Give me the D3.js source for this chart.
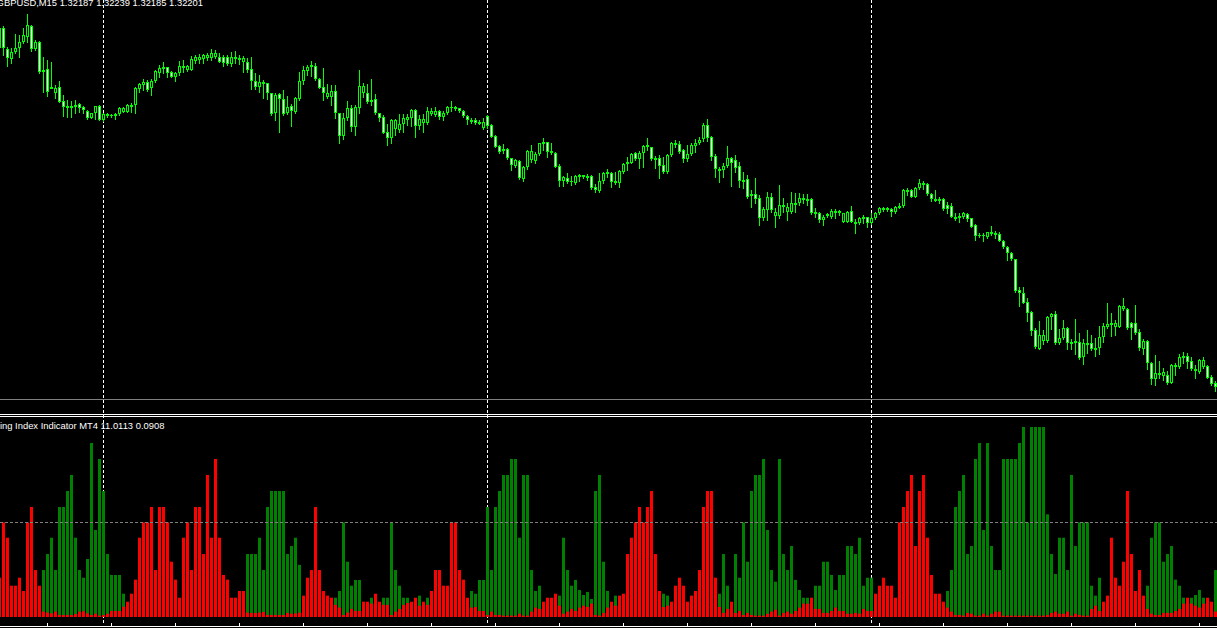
<!DOCTYPE html>
<html>
<head>
<meta charset="utf-8">
<script src="https://cdn.jsdelivr.net/npm/d3@7"></script>
<style>
  html, body { margin: 0; padding: 0; background: #000; overflow: hidden; }
  svg { display: block; }
</style>
</head>
<body>
<script>
// GBPUSD M15 candles, bar index -1 .. 303 (index -1 is the half-visible one on the left edge)
const opens = [
  1.3578,1.3578,1.3557,1.3547,1.3554,1.3558,1.3564,1.3569,1.3580,1.3557,1.3564,
  1.3535,1.3537,1.3518,1.3513,1.3519,1.3505,1.3498,1.3498,1.3499,1.3502,
  1.3499,1.3495,1.3488,1.3493,1.3500,1.3486,1.3491,1.3491,1.3491,1.3492,
  1.3494,1.3494,1.3500,1.3501,1.3517,1.3521,1.3524,1.3518,1.3525,1.3533,
  1.3537,1.3539,1.3534,1.3529,1.3533,1.3539,1.3536,1.3536,1.3545,1.3546,
  1.3547,1.3548,1.3548,1.3549,1.3549,1.3549,1.3549,1.3542,1.3547,1.3547,
  1.3544,1.3544,1.3537,1.3525,1.3519,1.3524,1.3523,1.3513,1.3493,1.3512,
  1.3507,1.3493,1.3500,1.3494,1.3507,1.3525,1.3535,1.3539,1.3540,1.3527,
  1.3519,1.3509,1.3509,1.3515,1.3493,1.3470,1.3488,1.3498,1.3479,1.3498,
  1.3513,1.3513,1.3506,1.3507,1.3493,1.3489,1.3474,1.3468,1.3477,1.3476,
  1.3482,1.3486,1.3488,1.3496,1.3480,1.3483,1.3483,1.3492,1.3491,1.3495,
  1.3489,1.3493,1.3499,1.3499,1.3498,1.3495,1.3490,1.3486,1.3486,1.3484,
  1.3478,1.3490,1.3481,1.3470,1.3460,1.3457,1.3457,1.3448,1.3440,1.3445,
  1.3427,1.3439,1.3446,1.3445,1.3452,1.3462,1.3464,1.3455,1.3453,1.3440,
  1.3425,1.3428,1.3425,1.3423,1.3431,1.3431,1.3430,1.3430,1.3419,1.3415,
  1.3425,1.3434,1.3433,1.3425,1.3423,1.3434,1.3442,1.3443,1.3453,1.3447,
  1.3453,1.3459,1.3459,1.3448,1.3448,1.3441,1.3434,1.3451,1.3463,1.3462,
  1.3456,1.3447,1.3452,1.3460,1.3463,1.3467,1.3481,1.3469,1.3450,1.3437,
  1.3436,1.3440,1.3448,1.3446,1.3440,1.3426,1.3427,1.3412,1.3412,1.3408,
  1.3388,1.3396,1.3409,1.3390,1.3390,1.3401,1.3394,1.3394,1.3403,1.3403,
  1.3406,1.3407,1.3407,1.3394,1.3393,1.3386,1.3392,1.3389,1.3394,1.3395,
  1.3384,1.3384,1.3395,1.3384,1.3383,1.3388,1.3389,1.3383,1.3388,1.3393,
  1.3398,1.3397,1.3397,1.3394,1.3398,1.3400,1.3416,1.3416,1.3409,1.3418,
  1.3422,1.3422,1.3412,1.3407,1.3407,1.3407,1.3401,1.3400,1.3389,1.3388,
  1.3389,1.3392,1.3388,1.3381,1.3371,1.3371,1.3369,1.3372,1.3373,1.3372,
  1.3365,1.3359,1.3353,1.3347,1.3316,1.3313,1.3304,1.3294,1.3276,1.3257,
  1.3265,1.3265,1.3289,1.3292,1.3263,1.3268,1.3278,1.3264,1.3265,1.3264,
  1.3249,1.3263,1.3263,1.3258,1.3258,1.3269,1.3279,1.3283,1.3279,1.3279,
  1.3297,1.3297,1.3283,1.3283,1.3274,1.3257,1.3265,1.3243,1.3227,1.3233,
  1.3230,1.3231,1.3223,1.3239,1.3239,1.3250,1.3250,1.3245,1.3237,1.3234,
  1.3239,1.3240,1.3229,1.3223
];
const highs = [
  1.3581,1.3580,1.3559,1.3558,1.3572,1.3571,1.3578,1.3592,1.3581,1.3566,1.3565,
  1.3549,1.3546,1.3544,1.3521,1.3525,1.3511,1.3506,1.3505,1.3506,1.3503,
  1.3500,1.3496,1.3493,1.3500,1.3501,1.3493,1.3493,1.3492,1.3493,1.3499,
  1.3499,1.3502,1.3503,1.3519,1.3523,1.3527,1.3526,1.3527,1.3536,1.3541,
  1.3544,1.3539,1.3535,1.3534,1.3545,1.3546,1.3541,1.3550,1.3551,1.3552,
  1.3552,1.3553,1.3557,1.3556,1.3553,1.3551,1.3551,1.3554,1.3555,1.3551,
  1.3550,1.3548,1.3549,1.3533,1.3531,1.3526,1.3523,1.3513,1.3513,1.3513,
  1.3516,1.3510,1.3502,1.3509,1.3534,1.3540,1.3541,1.3545,1.3543,1.3528,
  1.3538,1.3522,1.3521,1.3521,1.3493,1.3493,1.3505,1.3501,1.3501,1.3536,
  1.3523,1.3522,1.3527,1.3512,1.3493,1.3491,1.3482,1.3487,1.3487,1.3492,
  1.3492,1.3492,1.3497,1.3497,1.3491,1.3492,1.3499,1.3498,1.3499,1.3496,
  1.3495,1.3500,1.3505,1.3500,1.3498,1.3496,1.3491,1.3488,1.3488,1.3486,
  1.3488,1.3491,1.3482,1.3471,1.3461,1.3462,1.3458,1.3448,1.3447,1.3446,
  1.3440,1.3456,1.3461,1.3454,1.3463,1.3468,1.3464,1.3463,1.3454,1.3442,
  1.3430,1.3433,1.3430,1.3431,1.3432,1.3431,1.3432,1.3431,1.3422,1.3433,
  1.3434,1.3437,1.3434,1.3434,1.3436,1.3443,1.3449,1.3453,1.3454,1.3455,
  1.3461,1.3468,1.3459,1.3450,1.3451,1.3449,1.3452,1.3464,1.3466,1.3465,
  1.3457,1.3461,1.3463,1.3467,1.3469,1.3483,1.3487,1.3470,1.3452,1.3439,
  1.3443,1.3460,1.3449,1.3451,1.3444,1.3434,1.3431,1.3416,1.3428,1.3411,
  1.3399,1.3414,1.3413,1.3398,1.3421,1.3408,1.3403,1.3414,1.3413,1.3413,
  1.3412,1.3412,1.3408,1.3398,1.3394,1.3391,1.3393,1.3397,1.3397,1.3396,
  1.3393,1.3395,1.3400,1.3387,1.3389,1.3391,1.3389,1.3393,1.3394,1.3399,
  1.3399,1.3399,1.3398,1.3400,1.3403,1.3417,1.3418,1.3417,1.3419,1.3427,
  1.3425,1.3423,1.3413,1.3416,1.3409,1.3408,1.3404,1.3403,1.3393,1.3393,
  1.3394,1.3393,1.3388,1.3382,1.3373,1.3373,1.3374,1.3380,1.3375,1.3374,
  1.3366,1.3360,1.3354,1.3347,1.3319,1.3319,1.3308,1.3295,1.3278,1.3285,
  1.3276,1.3290,1.3293,1.3295,1.3277,1.3286,1.3279,1.3267,1.3287,1.3273,
  1.3267,1.3276,1.3271,1.3268,1.3280,1.3283,1.3303,1.3293,1.3286,1.3301,
  1.3308,1.3298,1.3284,1.3301,1.3277,1.3267,1.3266,1.3244,1.3251,1.3245,
  1.3238,1.3235,1.3242,1.3243,1.3252,1.3254,1.3253,1.3249,1.3241,1.3247,
  1.3249,1.3241,1.3231,1.3225
];
const lows = [
  1.3551,1.3551,1.3540,1.3543,1.3553,1.3549,1.3563,1.3564,1.3555,1.3556,1.3533,
  1.3514,1.3510,1.3518,1.3508,1.3504,1.3490,1.3489,1.3489,1.3493,1.3494,
  1.3493,1.3487,1.3488,1.3487,1.3486,1.3485,1.3489,1.3489,1.3487,1.3491,
  1.3494,1.3494,1.3494,1.3493,1.3514,1.3516,1.3515,1.3511,1.3524,1.3529,
  1.3533,1.3529,1.3529,1.3525,1.3531,1.3534,1.3535,1.3536,1.3543,1.3543,
  1.3543,1.3546,1.3546,1.3548,1.3544,1.3540,1.3541,1.3540,1.3543,1.3542,
  1.3534,1.3534,1.3517,1.3517,1.3514,1.3508,1.3507,1.3491,1.3486,1.3474,
  1.3491,1.3492,1.3480,1.3493,1.3506,1.3522,1.3531,1.3530,1.3526,1.3518,
  1.3506,1.3508,1.3501,1.3488,1.3463,1.3467,1.3486,1.3475,1.3471,1.3493,
  1.3509,1.3503,1.3501,1.3492,1.3485,1.3473,1.3461,1.3463,1.3471,1.3474,
  1.3474,1.3481,1.3480,1.3469,1.3477,1.3474,1.3482,1.3491,1.3490,1.3487,
  1.3486,1.3492,1.3495,1.3496,1.3494,1.3489,1.3482,1.3483,1.3482,1.3482,
  1.3477,1.3478,1.3469,1.3459,1.3453,1.3453,1.3447,1.3436,1.3439,1.3427,
  1.3425,1.3437,1.3444,1.3443,1.3451,1.3456,1.3449,1.3452,1.3439,1.3420,
  1.3420,1.3423,1.3421,1.3422,1.3425,1.3428,1.3426,1.3417,1.3414,1.3414,
  1.3423,1.3429,1.3419,1.3422,1.3419,1.3433,1.3436,1.3443,1.3446,1.3438,
  1.3439,1.3456,1.3446,1.3438,1.3428,1.3433,1.3433,1.3450,1.3459,1.3453,
  1.3444,1.3445,1.3451,1.3454,1.3462,1.3465,1.3465,1.3446,1.3429,1.3424,
  1.3429,1.3439,1.3420,1.3434,1.3419,1.3418,1.3408,1.3399,1.3403,1.3381,
  1.3386,1.3386,1.3394,1.3379,1.3388,1.3394,1.3386,1.3393,1.3394,1.3401,
  1.3403,1.3401,1.3392,1.3389,1.3384,1.3381,1.3389,1.3388,1.3388,1.3391,
  1.3384,1.3384,1.3384,1.3373,1.3382,1.3383,1.3379,1.3382,1.3387,1.3392,
  1.3395,1.3395,1.3390,1.3393,1.3398,1.3399,1.3411,1.3409,1.3409,1.3417,
  1.3417,1.3411,1.3405,1.3405,1.3403,1.3396,1.3393,1.3389,1.3386,1.3384,
  1.3388,1.3385,1.3379,1.3366,1.3369,1.3365,1.3368,1.3371,1.3368,1.3365,
  1.3358,1.3346,1.3346,1.3314,1.3300,1.3303,1.3285,1.3271,1.3258,1.3257,
  1.3262,1.3264,1.3277,1.3262,1.3262,1.3267,1.3257,1.3257,1.3252,1.3247,
  1.3242,1.3253,1.3256,1.3250,1.3252,1.3264,1.3278,1.3270,1.3271,1.3279,
  1.3296,1.3277,1.3267,1.3272,1.3256,1.3252,1.3237,1.3222,1.3221,1.3228,
  1.3226,1.3222,1.3223,1.3231,1.3238,1.3243,1.3238,1.3236,1.3228,1.3233,
  1.3238,1.3228,1.3221,1.3215
];
const closes = [
  1.3558,1.3558,1.3548,1.3554,1.3558,1.3564,1.3571,1.3581,1.3557,1.3564,1.3534,
  1.3536,1.3514,1.3519,1.3518,1.3504,1.3499,1.3500,1.3500,1.3501,1.3498,
  1.3496,1.3488,1.3493,1.3500,1.3486,1.3492,1.3492,1.3491,1.3492,1.3498,
  1.3498,1.3501,1.3501,1.3518,1.3522,1.3524,1.3516,1.3525,1.3535,1.3538,
  1.3539,1.3533,1.3529,1.3533,1.3540,1.3540,1.3540,1.3547,1.3549,1.3549,
  1.3551,1.3551,1.3553,1.3553,1.3544,1.3543,1.3542,1.3549,1.3549,1.3548,
  1.3548,1.3536,1.3525,1.3519,1.3524,1.3523,1.3513,1.3492,1.3511,1.3507,
  1.3492,1.3499,1.3495,1.3508,1.3525,1.3536,1.3539,1.3541,1.3527,1.3518,
  1.3513,1.3513,1.3515,1.3493,1.3470,1.3488,1.3498,1.3479,1.3499,1.3520,
  1.3520,1.3504,1.3504,1.3493,1.3488,1.3473,1.3468,1.3486,1.3486,1.3482,
  1.3488,1.3489,1.3496,1.3480,1.3487,1.3487,1.3495,1.3495,1.3495,1.3489,
  1.3493,1.3499,1.3499,1.3498,1.3495,1.3490,1.3486,1.3484,1.3483,1.3483,
  1.3484,1.3480,1.3469,1.3459,1.3454,1.3456,1.3448,1.3441,1.3446,1.3428,
  1.3439,1.3455,1.3455,1.3452,1.3463,1.3464,1.3454,1.3453,1.3439,1.3425,
  1.3429,1.3424,1.3425,1.3430,1.3429,1.3430,1.3429,1.3418,1.3416,1.3425,
  1.3433,1.3433,1.3424,1.3423,1.3435,1.3442,1.3444,1.3452,1.3447,1.3453,
  1.3460,1.3461,1.3447,1.3447,1.3440,1.3434,1.3451,1.3463,1.3462,1.3454,
  1.3447,1.3452,1.3461,1.3463,1.3466,1.3481,1.3468,1.3449,1.3437,1.3435,
  1.3440,1.3448,1.3443,1.3438,1.3425,1.3424,1.3409,1.3410,1.3407,1.3388,
  1.3397,1.3409,1.3396,1.3394,1.3401,1.3399,1.3399,1.3403,1.3402,1.3408,
  1.3408,1.3405,1.3393,1.3393,1.3386,1.3389,1.3391,1.3395,1.3395,1.3393,
  1.3393,1.3394,1.3384,1.3383,1.3388,1.3389,1.3383,1.3388,1.3393,1.3398,
  1.3397,1.3398,1.3394,1.3399,1.3400,1.3416,1.3415,1.3409,1.3418,1.3423,
  1.3423,1.3412,1.3407,1.3406,1.3405,1.3397,1.3397,1.3389,1.3388,1.3390,
  1.3393,1.3387,1.3379,1.3370,1.3371,1.3371,1.3374,1.3374,1.3371,1.3365,
  1.3359,1.3353,1.3347,1.3315,1.3313,1.3303,1.3293,1.3275,1.3259,1.3271,
  1.3271,1.3289,1.3292,1.3263,1.3268,1.3278,1.3263,1.3263,1.3263,1.3248,
  1.3263,1.3262,1.3257,1.3257,1.3269,1.3280,1.3282,1.3281,1.3283,1.3300,
  1.3300,1.3278,1.3278,1.3273,1.3258,1.3265,1.3243,1.3227,1.3233,1.3232,
  1.3234,1.3223,1.3241,1.3241,1.3249,1.3249,1.3244,1.3237,1.3235,1.3246,
  1.3246,1.3228,1.3222,1.3219
];

// indicator buffers (same bar index)
const upVals = [
  0,0,0,0,0,0,0,0,0,0,0,
  3.06,4.06,5.08,3.06,7,7,8,9,5.08,3.06,
  2.58,3.75,11,5.56,10,8,4.06,2.75,2.75,2.75,
  1.58,0,0,0,0,0,0,0,0,0,
  0,0,0,0,0,0,0,0,0,0,
  0,0,0,0,0,0,0,0,0,0,
  0,4.06,4.06,4.06,5.08,3.06,7,8,8,8,
  8,4.06,4.56,5.08,3.38,0,0,0,0,0,
  0,0,0,1.33,1.75,6.04,3.58,2.08,2.44,2.44,
  0,0,1.33,0,0,1.33,1.33,6.04,3.06,2.08,
  1.33,1.33,0,0,1.46,0,1.33,0,0,0,
  0,0,0,0,0,0,0,1.75,1.58,2.44,
  2.44,7,3.06,7,8,9,9,10,10,5.08,
  9,9,3.06,1.75,2.08,0,0,0,0,1.46,
  5.08,3.06,2.08,2.44,1.81,1.5,1.69,1.25,8,9,
  3.58,1.75,0,1.46,0,0,0,0,0,0,
  0,0,0,0,0,1.58,1.46,0,0,0,
  0,0,0,0,0,0,0,0,0,1.58,
  4.06,2.08,0,4.06,2.58,6.04,3.58,8,9,9,
  10,5.56,3.06,2.33,10,4.06,3.06,4.56,2.44,1.81,
  1.33,1.33,0,2.08,2.08,3.58,3.58,2.75,1.81,2.75,
  2.75,4.56,4.56,4.06,5.08,2.08,2.58,2.58,0,0,
  0,0,0,0,0,0,0,0,0,0,
  0,0,0,0,0,0,1.75,3.06,7,8,
  9,4.06,4.56,10,11,5.56,11,4.56,3.06,3.06,
  10,10,10,10,11,12,6.04,12,12,12,
  12,6.54,4.06,2.81,5.08,5.08,3.06,9,4.56,6.04,
  6.04,6.04,2.08,1.46,2.58,0,0,0,0,0,
  0,0,0,0,0,0,2.08,5.08,6.04,6.04,
  3.58,4.06,4.56,2.46,2.08,1.33,0,1.33,1.5,1.81,
  1.33,0,0,3.06
];
const downVals = [
  2.58,6.04,5.08,2.08,2.08,2.58,1.75,6.04,7,3.06,2.08,
  0.46,0.4,0.35,0.46,0.25,0.25,0.25,0.25,0.31,0.46,
  0.48,0.35,0.25,0.33,0.21,0.25,0.33,0.5,0.5,0.5,
  0.77,1.08,1.58,2.46,5.08,6.04,6.04,7,3.06,7,
  7,6.04,3.58,2.46,1.33,5.08,6.04,3.06,7,7,
  4.06,9,5.08,10,5.08,2.75,2.46,1.33,1.33,1.75,
  1.75,0.4,0.38,0.38,0.4,0.44,0.25,0.25,0.25,0.25,
  0.25,0.38,0.33,0.35,0.4,1.46,2.58,3.06,7,3.06,
  1.75,1.46,1.33,0.88,0.71,0.25,0.4,0.63,0.5,0.5,
  1.08,1.08,0.96,1.58,1.08,0.88,0.88,0.25,0.46,0.63,
  0.88,1,1.08,1.33,0.83,1.08,0.88,1.75,3.06,3.06,
  2.08,2.08,6.04,6.04,3.06,2.46,1.33,0.71,0.75,0.5,
  0.5,0.25,0.46,0.25,0.25,0.21,0.21,0.21,0.21,0.33,
  0.21,0.21,0.46,0.71,0.63,1.08,1.33,1.33,1.58,0.83,
  0.33,0.46,0.63,0.5,0.71,0.83,0.75,0.96,0.25,0.21,
  0.38,0.71,1.08,0.83,1.46,1.58,4.06,5.08,6.04,7,
  6.04,7,8,4.06,1.75,0.75,0.83,1.08,2.08,2.58,
  2.08,1.08,1.46,1.75,3.06,7,8,8,2.58,0.75,
  0.38,0.63,1.08,0.38,0.5,0.25,0.38,0.25,0.21,0.21,
  0.21,0.33,0.46,0.58,0.21,0.38,0.46,0.33,0.5,0.71,
  0.96,0.96,1.33,0.63,0.63,0.38,0.38,0.5,0.71,0.5,
  0.5,0.33,0.33,0.38,0.33,0.63,0.5,0.5,1.58,2.08,
  2.58,2.08,2.08,1.33,6.04,7,8,9,4.56,8,
  9,5.08,2.75,1.58,1.58,1.08,0.71,0.46,0.25,0.25,
  0.21,0.38,0.33,0.21,0.21,0.33,0.21,0.33,0.46,0.46,
  0.21,0.21,0.21,0.21,0.21,0.21,0.21,0.21,0.21,0.21,
  0.21,0.25,0.38,0.46,0.33,0.33,0.46,0.21,0.33,0.25,
  0.21,0.21,0.63,0.83,0.5,1.08,1.46,5.08,2.58,2.08,
  3.58,8,4.06,1.75,3.06,1.46,0.63,0.33,0.25,0.25,
  0.38,0.38,0.38,0.5,0.63,0.96,1.33,0.96,0.83,0.71,
  0.96,1.33,1.08,0.46
];

const daySeparators = [25, 121, 217];     // first bar of each new day
const timeTicks = d3.range(11, 304, 16);  // every 4 hours
const indicatorLevel = 6;
const titleMain = "GBPUSD,M15  1.32187 1.32239 1.32185 1.32201";
const titleSub = "ing Index Indicator MT4 11.0113 0.0908";

const W = 1217, H = 628;
const bars = d3.range(-1, 304).map((i, k) => ({
  i, o: opens[k], h: highs[k], l: lows[k], c: closes[k], up: upVals[k], dn: downVals[k]
}));

const svg = d3.select('body').append('svg')
  .attr('width', W)
  .attr('height', H)
  .style('background-color', '#000');

const x = d3.scaleBand()
  .domain(bars.map(d => d.i))
  .range([-2.5, W + 0.5])
  .paddingInner(0.25)
  .paddingOuter(0.125);
const cx = i => x(i) + x.bandwidth() / 2;

const y = d3.scaleLinear().domain([1.3606, 1.3206]).range([0, 400]);
const yInd = d3.scaleLinear().domain([0, 12]).range([619, 427]);
const IND_BOTTOM = 617;

// day separators (drawn first, under everything)
svg.append('g').selectAll('line')
  .data(daySeparators)
  .join('line')
  .attr('x1', d => cx(d)).attr('x2', d => cx(d))
  .attr('y1', 0).attr('y2', 624)
  .attr('stroke', '#fff')
  .attr('stroke-dasharray', '3,2');

// main chart
const mainG = svg.append('g');
mainG.selectAll('line.wick')
  .data(bars)
  .join('line')
  .attr('class', 'wick')
  .attr('x1', d => cx(d.i)).attr('x2', d => cx(d.i))
  .attr('y1', d => Math.round(y(d.h))).attr('y2', d => Math.round(y(d.l)) + 1)
  .attr('stroke', '#00ff00');

const bodies = mainG.selectAll('g.body')
  .data(bars)
  .join('g')
  .attr('class', 'body');

bodies.each(function (d) {
  const g = d3.select(this);
  const top = Math.round(y(Math.max(d.o, d.c)));
  const bot = Math.round(y(Math.min(d.o, d.c)));
  if (bot - top >= 2) {
    g.append('rect')
      .attr('x', cx(d.i) - 1)
      .attr('y', top + 0.5)
      .attr('width', 2)
      .attr('height', bot - top - 1)
      .attr('fill', d.c >= d.o ? '#000' : '#fff')
      .attr('stroke', '#00ff00');
  } else {
    g.append('rect')
      .attr('x', cx(d.i) - 1.5)
      .attr('y', top)
      .attr('width', 3)
      .attr('height', bot - top + 1)
      .attr('fill', '#00ff00');
  }
});

// window borders
svg.append('line').attr('x1', 0).attr('x2', W).attr('y1', 399.5).attr('y2', 399.5).attr('stroke', '#808080');
svg.append('line').attr('x1', 0).attr('x2', W).attr('y1', 414.5).attr('y2', 414.5).attr('stroke', '#fff');
svg.append('line').attr('x1', 0).attr('x2', W).attr('y1', 416.5).attr('y2', 416.5).attr('stroke', '#fff');

// indicator histogram
const indG = svg.append('g');
indG.selectAll('rect.up')
  .data(bars.filter(d => d.up > 0))
  .join('rect')
  .attr('class', 'up')
  .attr('x', d => x(d.i))
  .attr('width', x.bandwidth())
  .attr('y', d => yInd(d.up))
  .attr('height', d => Math.max(0, IND_BOTTOM - yInd(d.up)))
  .attr('fill', '#008000');
indG.selectAll('rect.dn')
  .data(bars.filter(d => d.dn > 0))
  .join('rect')
  .attr('class', 'dn')
  .attr('x', d => x(d.i))
  .attr('width', x.bandwidth())
  .attr('y', d => yInd(d.dn))
  .attr('height', d => Math.max(0, IND_BOTTOM - yInd(d.dn)))
  .attr('fill', '#ff0000');

// level line
svg.append('line')
  .attr('x1', 0).attr('x2', W)
  .attr('y1', Math.floor(yInd(indicatorLevel)) - 0.5)
  .attr('y2', Math.floor(yInd(indicatorLevel)) - 0.5)
  .attr('stroke', '#808080')
  .attr('stroke-dasharray', '3,2');

// time scale
const axis = d3.axisBottom(x)
  .tickValues(timeTicks)
  .tickSizeInner(-3)
  .tickSizeOuter(0)
  .tickFormat(() => '');
const axG = svg.append('g')
  .attr('transform', 'translate(0,626)')
  .call(axis);
axG.select('.domain').attr('stroke', '#fff').attr('d', `M0,0.5H${W}`);
axG.selectAll('.tick line').attr('stroke', '#fff');
axG.selectAll('.tick text').remove();

// titles
svg.append('text')
  .attr('x', 203).attr('y', 5.5)
  .attr('text-anchor', 'end')
  .attr('fill', '#fff')
  .style('font-family', 'Liberation Sans, Arial, sans-serif')
  .style('font-size', '9.4px')
  .text(titleMain);

svg.append('text')
  .attr('x', 0).attr('y', 428.5)
  .attr('fill', '#fff')
  .style('font-family', 'Liberation Sans, Arial, sans-serif')
  .style('font-size', '9.4px')
  .text(titleSub);
</script>
</body>
</html>
